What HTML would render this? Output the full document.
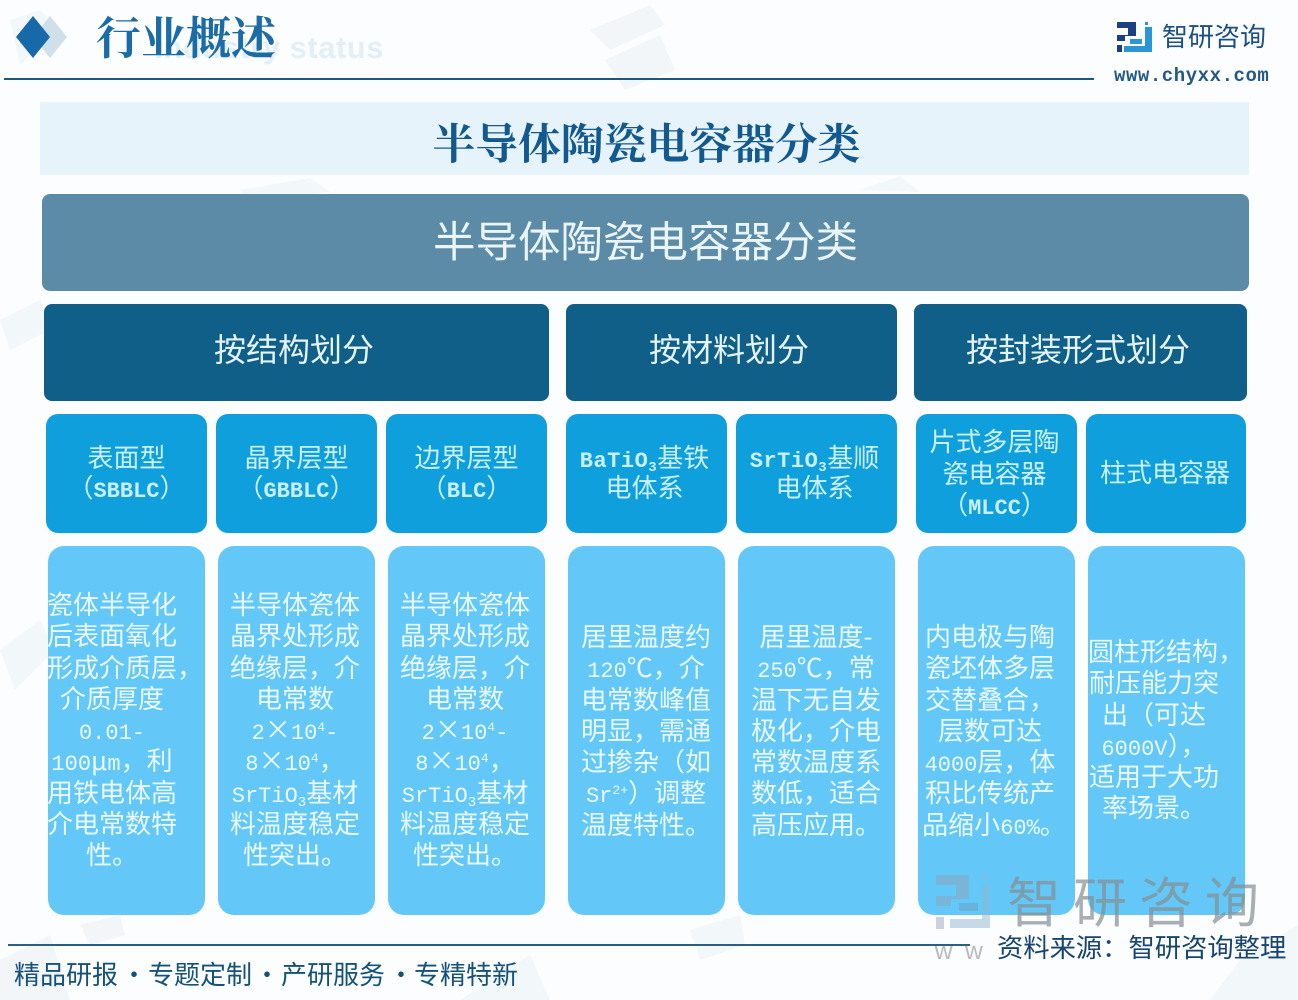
<!DOCTYPE html>
<html lang="zh-CN"><head><meta charset="utf-8"><title>半导体陶瓷电容器分类</title>
<style>
html,body{margin:0;padding:0}
body{width:1298px;height:1000px;position:relative;overflow:hidden;background:#fcfdfe;font-family:"Liberation Sans","Noto Sans CJK SC",sans-serif}
.a{position:absolute}
.t{position:absolute;text-align:center;white-space:nowrap;font-family:"Noto Sans CJK SC",sans-serif}
.h{box-sizing:border-box;padding-right:5px;background:#0f5f89;top:304px;height:97px;border-radius:8px;color:#e4f3f8;font-size:32px;line-height:92px;position:absolute;text-align:center;white-space:nowrap}
.s{position:absolute;top:414px;height:119px;background:#0f9fdc;border-radius:12px}
.b{position:absolute;top:546px;height:369px;width:157px;background:#63c8f7;border-radius:16px}
.x{color:#c9f0fa;font-size:26px;line-height:30px}
.d{color:#e9f9ff;font-size:26px;line-height:31.25px}
.m{font-family:"Liberation Mono",monospace;font-size:22px;line-height:0}
.x .m{font-weight:bold}
.r{position:relative}
sub{font-size:14px;line-height:0;vertical-align:-4px}
sup{font-size:13px;line-height:0;vertical-align:8px}
.f{font-size:26px;line-height:36px;color:#14527a;top:956px}
</style></head><body>
<svg class="a" style="left:0;top:0" width="1298" height="1000">
<g fill="#eef4f8" opacity=".7">
<polygon points="590,30 650,5 665,25 610,50"/><polygon points="605,60 660,35 675,70 625,90"/>
<polygon points="0,320 40,300 50,330 10,350"/><polygon points="0,650 40,620 55,650 15,690"/>
<polygon points="1240,960 1298,925 1298,1000 1210,1000"/><polygon points="460,1000 530,955 550,1000"/>
<polygon points="80,925 120,915 125,935 90,945"/><polygon points="0,960 50,935 70,1000 0,1000"/>
<polygon points="240,190 310,178 330,192 250,200"/><polygon points="860,190 900,176 920,192"/>
<polygon points="10,20 40,10 60,30 20,65"/><polygon points="690,930 740,915 745,945 700,960"/>
</g></svg>
<div class="t" style="right:914px;top:26px;font:bold 31px/44px 'Liberation Sans',sans-serif;color:#e3eff6;letter-spacing:.5px;white-space:pre">Industry status</div>
<svg class="a" style="left:15px;top:12px" width="70" height="50">
<polygon points="35,4 52,25 35,46 18,25" fill="#cfe0ea"/><polygon points="18,4 35,25 18,46 1,25" fill="#1769a9"/></svg>
<div class="t" style="left:96px;top:5px;font:bold 45px/60px 'Noto Serif CJK SC',serif;color:#1b6ca6">行业概述</div>
<div class="a" style="left:4px;top:78px;width:1090px;height:2px;background:#1d5878"></div>
<svg class="a" style="left:1117px;top:22px" width="36" height="31">
<path d="M0 0H19V14H8V19H0V13H11V6H0Z" fill="#1f3f84"/><rect y="23" width="5" height="7" fill="#1f3f84"/>
<path d="M28 0H31V3H28ZM28 5H35V30H7V24H28Z" fill="#2a96d7"/><path d="M13 17H25V22H13Z" fill="#2a96d7"/></svg>
<div class="t" style="left:1162px;top:18px;font-size:26px;line-height:36px;color:#1c4f86">智研咨询</div>
<div class="t" style="left:1114px;top:63px;font:bold 19px/26px 'Liberation Mono',monospace;letter-spacing:.55px;color:#215a8a">www.chyxx.com</div>

<div class="a" style="left:40px;top:102px;width:1209px;height:73px;background:#e6f3fb"></div>
<div class="t" style="left:40px;width:1213px;top:112px;font:bold 42.8px/60px 'Noto Serif CJK SC',serif;color:#12598f">半导体陶瓷电容器分类</div>
<div class="a" style="left:42px;top:194px;width:1207px;height:97px;background:#5b8ba6;border-radius:8px"></div>
<div class="t" style="left:42px;width:1207px;top:210px;font-size:42.5px;line-height:60px;color:#e9f5f9">半导体陶瓷电容器分类</div>

<div class="h" style="left:44px;width:505px">按结构划分</div>
<div class="h" style="left:566px;width:331px">按材料划分</div>
<div class="h" style="left:914px;width:333px">按封装形式划分</div>

<div class="s" style="left:46px;width:161px"></div>
<div class="s" style="left:216px;width:161px"></div>
<div class="s" style="left:386px;width:161px"></div>
<div class="s" style="left:566px;width:161px"></div>
<div class="s" style="left:736px;width:161px"></div>
<div class="s" style="left:916px;width:161px"></div>
<div class="s" style="left:1086px;width:160px"></div>

<div class="t x" style="left:46px;width:161px;top:442px">表面型<br>（<span class="m">SBBLC</span>）</div>
<div class="t x" style="left:216px;width:161px;top:442px">晶界层型<br>（<span class="m">GBBLC</span>）</div>
<div class="t x" style="left:386px;width:161px;top:442px">边界层型<br>（<span class="m">BLC</span>）</div>
<div class="t x" style="left:564px;width:161px;top:442px"><span class="m" style="letter-spacing:.5px">BaTiO<sub>3</sub></span>基铁<br>电体系</div>
<div class="t x" style="left:734px;width:161px;top:442px"><span class="m" style="letter-spacing:.5px">SrTiO<sub>3</sub></span>基顺<br>电体系</div>
<div class="t x" style="left:916px;width:157px;top:425px;line-height:31.5px">片式多层陶<br>瓷电容器<br>（<span class="m">MLCC</span>）</div>
<div class="t x" style="left:1085px;width:160px;top:457px">柱式电容器</div>

<div class="b" style="left:48px"></div>
<div class="b" style="left:218px"></div>
<div class="b" style="left:388px"></div>
<div class="b" style="left:568px"></div>
<div class="b" style="left:738px"></div>
<div class="b" style="left:918px"></div>
<div class="b" style="left:1088px"></div>

<div class="t d" style="left:12px;width:200px;top:588px">瓷体半导化<br>后表面氧化<br><span class="r" style="left:13px">形成介质层，</span><br>介质厚度<br><span class="m">0.01-</span><br><span class="m">100</span>μ<span class="m">m</span>，利<br>用铁电体高<br>介电常数特<br>性。</div>
<div class="t d" style="left:195px;width:200px;top:588px">半导体瓷体<br>晶界处形成<br>绝缘层，介<br>电常数<br><span class="m">2</span>×<span class="m">10<sup>4</sup>-</span><br><span class="m">8</span>×<span class="m">10<sup>4</sup></span>，<br><span class="m">SrTiO<sub>3</sub></span>基材<br>料温度稳定<br>性突出。</div>
<div class="t d" style="left:365px;width:200px;top:588px">半导体瓷体<br>晶界处形成<br>绝缘层，介<br>电常数<br><span class="m">2</span>×<span class="m">10<sup>4</sup>-</span><br><span class="m">8</span>×<span class="m">10<sup>4</sup></span>，<br><span class="m">SrTiO<sub>3</sub></span>基材<br>料温度稳定<br>性突出。</div>
<div class="t d" style="left:546px;width:200px;top:620px">居里温度约<br><span class="m">120</span>℃，介<br>电常数峰值<br>明显，需通<br>过掺杂（如<br><span class="m">Sr<sup>2+</sup></span>）调整<br>温度特性。</div>
<div class="t d" style="left:716px;width:200px;top:620px">居里温度-<br><span class="m">250</span>℃，常<br>温下无自发<br>极化，介电<br>常数温度系<br>数低，适合<br>高压应用。</div>
<div class="t d" style="left:890px;width:200px;top:620px">内电极与陶<br>瓷坯体多层<br>交替叠合，<br>层数可达<br><span class="m">4000</span>层，体<br>积比传统产<br><span class="r" style="left:4px">品缩小<span class="m">60%</span>。</span></div>
<div class="t d" style="left:1054px;width:200px;top:635px"><span class="r" style="left:12px">圆柱形结构，</span><br>耐压能力突<br>出（可达<br><span class="m">6000V</span>），<br>适用于大功<br>率场景。</div>

<svg class="a" style="left:936px;top:875px" width="56" height="56" opacity=".5">
<path d="M0 0H33V24H15V31H0V21H20V10H0Z" fill="#8fa4bb"/><rect y="42" width="8" height="12" fill="#9aa9c4"/>
<path d="M46 0H52V5H46ZM46 10H54V53H14V44H46Z" fill="#8fb6d5"/><path d="M23 28H42V36H23Z" fill="#6d9ec4"/></svg>
<div class="t" style="left:1007px;top:861px;font-size:54px;line-height:76px;letter-spacing:12px;color:#868e92;opacity:.7">智研咨询</div>
<div class="t" style="left:934px;top:934px;font-size:24px;line-height:30px;letter-spacing:11px;color:#b9bcbe">ww</div>

<div class="a" style="left:8px;top:944px;width:962px;height:2px;background:#2b5f7e"></div>
<div class="t f" style="left:14px">精品研报</div>
<div class="t f" style="left:121px">·</div>
<div class="t f" style="left:148px">专题定制</div>
<div class="t f" style="left:254px">·</div>
<div class="t f" style="left:281px">产研服务</div>
<div class="t f" style="left:388px">·</div>
<div class="t f" style="left:414px">专精特新</div>
<div class="t" style="left:997px;top:928px;font-size:26.3px;line-height:36px;color:#17456f">资料来源：智研咨询整理</div>
</body></html>
